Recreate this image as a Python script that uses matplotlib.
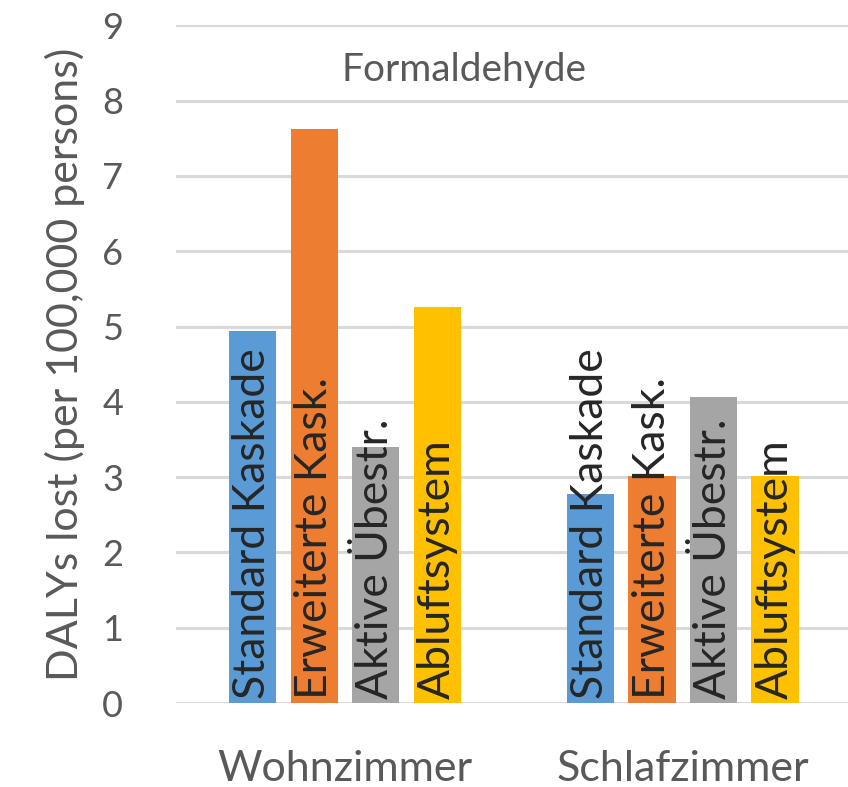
import numpy as np
import matplotlib
matplotlib.use("Agg")
import matplotlib.pyplot as plt

plt.rcParams['font.family'] = ['Lato', 'DejaVu Sans']

# Rooms and ventilation variants
rooms = ['Wohnzimmer', 'Schlafzimmer']
variants = ['Standard Kaskade', 'Erweiterte Kask.', 'Aktive Übestr.', 'Abluftsystem']
colors = ['#5B9BD5', '#ED7D31', '#A5A5A5', '#FFC000']

# DALYs lost per 100,000 persons, one list per variant (Wohnzimmer, Schlafzimmer)
standard_kaskade = [4.94, 2.78]
erweiterte_kask = [7.63, 3.01]
aktive_uebestr = [3.40, 4.06]
abluftsystem = [5.26, 3.02]
values = [standard_kaskade, erweiterte_kask, aktive_uebestr, abluftsystem]

text_col = '#595959'
grid_col = '#D9D9D9'

fig = plt.figure(figsize=(8.48, 7.87), dpi=100)
ax = fig.add_axes([0.2075, 0.1067, 0.797, 0.861])

x = np.arange(len(rooms))
step = 0.182
width = 0.14
for i, (name, vals, c) in enumerate(zip(variants, values, colors)):
    pos = x + (i - 1.5) * step
    ax.bar(pos, vals, width=width, color=c, zorder=3)
    for p in pos:
        ax.text(p, 0.06, name, rotation=90, ha='center', va='bottom',
                fontsize=32, color='#262626', zorder=4)

ax.set_xlim(-0.5, 1.5)
ax.set_ylim(0, 9)
ax.set_yticks(range(0, 10))
ax.set_xticks(x)
ax.set_xticklabels(rooms, fontsize=31)
ax.tick_params(axis='both', length=0, colors=text_col)
ax.tick_params(axis='y', labelsize=26, pad=38)
ax.tick_params(axis='x', pad=34)
ax.yaxis.grid(True, color=grid_col, linewidth=2.2, zorder=0)
for s in ax.spines.values():
    s.set_visible(False)

ax.set_ylabel('DALYs lost (per 100,000 persons)', fontsize=31, color=text_col, labelpad=12)
fig.text(464 / 848, 1 - 70 / 787, 'Formaldehyde', ha='center', va='center',
         fontsize=28, color=text_col)

fig.savefig('out.png', dpi=100)
